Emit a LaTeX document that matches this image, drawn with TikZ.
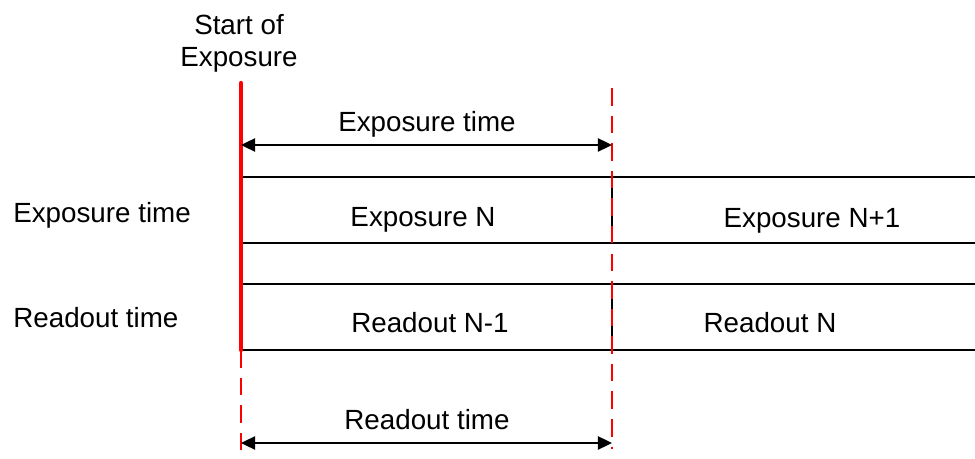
\documentclass[tikz,border=0pt]{standalone}
\usepackage{fontspec}
\setmainfont{Liberation Sans}
\usetikzlibrary{arrows.meta, positioning}
\definecolor{startcolor}{RGB}{255, 0, 0}
\definecolor{rowcolor}  {RGB}{0, 0, 0}
\tikzset{
	lbltext/.style={
		font=\fontsize{15.8}{18.2}\selectfont,
		inner sep=0pt, anchor=base, align=center
	},
	rowline/.style={
		line width=1.1pt, color=rowcolor
	},
	sepline/.style={
		line width=1.7pt, color=rowcolor
	},
	startline/.style={
		line width=2.4pt, color=startcolor, line cap=round
	},
	guideline/.style={
		dash pattern=on 10pt off 5.7pt, line width=0.6pt, color=startcolor
	},
	dimarrow/.style={
		{Triangle[length=8pt, width=7.5pt]}-{Triangle[length=8pt, width=7.5pt]},
		line width=1.1pt, color=black
	}
}
\begin{document}
\begin{tikzpicture}[x=0.02cm, y=-0.02cm]
		\useasboundingbox (0,0) rectangle (975,459);
		
		%% ═══════════════════════════════
		%%  KEY POINTS
		%% ═══════════════════════════════
		\coordinate (sTop)  at (241,83);
		\coordinate (sBot)  at (241,350);
		\coordinate (sEnd)  at (241,459);
		\coordinate (eTop)  at (612,88);
		\coordinate (eEnd)  at (612,449);
		
		% row edges
		\coordinate (expA)  at (241,177);
		\coordinate (expB)  at (241,243);
		\coordinate (rdA)   at (241,284);
		\coordinate (rdB)   at (241,350);
		\coordinate (expAr) at (975,177);
		\coordinate (expBr) at (975,243);
		\coordinate (rdAr)  at (975,284);
		\coordinate (rdBr)  at (975,350);
		\coordinate (expAm) at (612,177);
		\coordinate (expBm) at (612,243);
		\coordinate (rdAm)  at (612,284);
		\coordinate (rdBm)  at (612,350);
		
		% dimension arrows
		\coordinate (dimTL) at (241,145);
		\coordinate (dimTR) at (612,145);
		\coordinate (dimBL) at (241,443);
		\coordinate (dimBR) at (612,443);
		
		%% ═══════════════════════════════
		%%  LABELS
		%% ═══════════════════════════════
		\node[lbltext, anchor=center] (start) at (239,43) {Start of\\Exposure};
		\node[lbltext] (exptime) at (427,132) {Exposure time};
		\node[lbltext, anchor=base west] (rowexp) at (13,223) {Exposure time};
		\node[lbltext, anchor=base west] (rowrd)  at (13,328) {Readout time};
		\node[lbltext] (expn)  at (423,227) {Exposure N};
		\node[lbltext] (expn1) at (812,228) {Exposure N+1};
		\node[lbltext] (rdn1)  at (430,333) {Readout N-1};
		\node[lbltext] (rdn)   at (770,333) {Readout N};
		\node[lbltext] (rdtime) at (427,430) {Readout time};
		
		%% ═══════════════════════════════
		%%  ROWS
		%% ═══════════════════════════════
		\draw[rowline] (expA) -- (expAr);
		\draw[rowline] (expB) -- (expBr);
		\draw[rowline] (rdA) -- (rdAr);
		\draw[rowline] (rdB) -- (rdBr);
		\draw[sepline] (expAm) -- (expBm);
		\draw[sepline] (rdAm) -- (rdBm);
		
		%% ═══════════════════════════════
		%%  MARKERS + ARROWS
		%% ═══════════════════════════════
		\draw[guideline] (sBot) -- (sEnd);
		\draw[guideline] (eTop) -- (eEnd);
		\draw[startline] (sTop) -- (sBot);
		
		\draw[dimarrow] (dimTL) -- (dimTR);
		\draw[dimarrow] (dimBL) -- (dimBR);
	\end{tikzpicture}
\end{document}
